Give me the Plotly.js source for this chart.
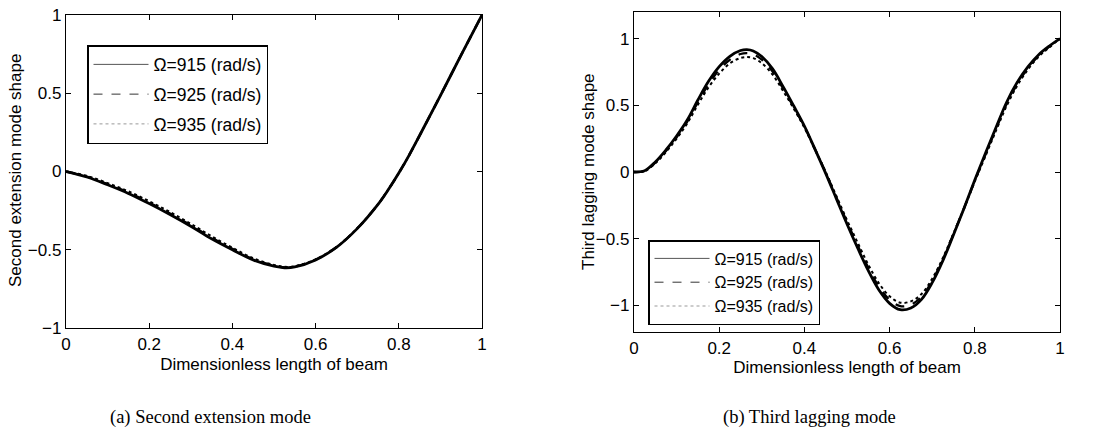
<!DOCTYPE html>
<html>
<head>
<meta charset="utf-8">
<script src="https://cdn.plot.ly/plotly-3.0.1.min.js"></script>
<style>html,body{margin:0;padding:0;background:#fff;}#chart{width:1096px;height:442px;}</style>
</head>
<body>
<div id="chart"></div>
<script>
// ---- Data ----
const seriesNames = ["\u03A9=915 (rad/s)", "\u03A9=925 (rad/s)", "\u03A9=935 (rad/s)"];

// (a) Second extension mode
const xA = [0, 0.05, 0.1, 0.15, 0.2, 0.25, 0.3, 0.35, 0.4, 0.45, 0.5, 0.525, 0.55, 0.6, 0.65, 0.7, 0.75, 0.775, 0.8, 0.825, 0.85, 0.9, 0.95, 1];
const yA915 = [0, -0.035, -0.085, -0.14, -0.205, -0.275, -0.35, -0.43, -0.50, -0.565, -0.605, -0.615, -0.61, -0.565, -0.485, -0.365, -0.21, -0.115, -0.01, 0.105, 0.23, 0.485, 0.745, 1.0];
const yA925 = [0, -0.032, -0.080, -0.134, -0.198, -0.268, -0.343, -0.423, -0.494, -0.560, -0.601, -0.612, -0.608, -0.563, -0.484, -0.364, -0.21, -0.115, -0.01, 0.105, 0.23, 0.485, 0.745, 1.0];
const yA935 = [0, -0.028, -0.074, -0.127, -0.190, -0.259, -0.334, -0.414, -0.487, -0.554, -0.597, -0.609, -0.606, -0.561, -0.483, -0.363, -0.209, -0.115, -0.01, 0.105, 0.23, 0.485, 0.745, 1.0];

// (b) Third lagging mode
const xB = [0, 0.025, 0.05, 0.075, 0.1, 0.125, 0.15, 0.175, 0.2, 0.225, 0.25, 0.265, 0.28, 0.3, 0.325, 0.35, 0.375, 0.4, 0.425, 0.45, 0.475, 0.5, 0.525, 0.55, 0.575, 0.6, 0.625, 0.65, 0.675, 0.7, 0.725, 0.75, 0.775, 0.8, 0.825, 0.85, 0.875, 0.9, 0.925, 0.95, 0.975, 1];
const yB915 = [0, 0.01, 0.075, 0.165, 0.27, 0.39, 0.54, 0.68, 0.79, 0.868, 0.911, 0.918, 0.908, 0.866, 0.775, 0.64, 0.495, 0.345, 0.17, -0.01, -0.2, -0.39, -0.57, -0.74, -0.885, -0.985, -1.033, -1.02, -0.955, -0.83, -0.665, -0.47, -0.27, -0.06, 0.14, 0.335, 0.525, 0.675, 0.79, 0.88, 0.945, 1.0];
const yB925 = [0, 0.008, 0.07, 0.158, 0.26, 0.378, 0.523, 0.658, 0.765, 0.842, 0.885, 0.892, 0.883, 0.843, 0.755, 0.626, 0.486, 0.34, 0.17, -0.005, -0.19, -0.375, -0.55, -0.718, -0.86, -0.958, -1.006, -0.995, -0.935, -0.815, -0.655, -0.465, -0.27, -0.065, 0.13, 0.325, 0.512, 0.662, 0.78, 0.872, 0.94, 1.0];
const yB935 = [0, 0.006, 0.065, 0.15, 0.25, 0.365, 0.505, 0.635, 0.738, 0.815, 0.855, 0.862, 0.854, 0.816, 0.732, 0.608, 0.475, 0.332, 0.168, 0.0, -0.18, -0.36, -0.53, -0.695, -0.835, -0.932, -0.98, -0.97, -0.915, -0.80, -0.645, -0.46, -0.27, -0.07, 0.12, 0.312, 0.498, 0.65, 0.77, 0.865, 0.935, 1.0];

// tick labels
const xTicks = [0, 0.2, 0.4, 0.6, 0.8, 1];
const xTickText = ["0", "0.2", "0.4", "0.6", "0.8", "1"];
const yTicksA = [-1, -0.5, 0, 0.5, 1];
const yTickTextA = ["\u22121", "\u22120.5", "0", "0.5", "1"];
const yTicksB = [-1, -0.5, 0, 0.5, 1];
const yTickTextB = ["\u22121", "\u22120.5", "0", "0.5", "1"];

const xTitle = "Dimensionless length of beam";
const yTitleA = "Second extension mode shape";
const yTitleB = "Third lagging mode shape";
const captionA = "(a) Second extension mode";
const captionB = "(b) Third lagging mode";

// ---- Styling ----
const dashes = ["solid", "dash", "dot"];
const widths = [2.8, 2.3, 2.0];
const legendGrey = ["#555", "#333", "#999"];
const F = "Liberation Sans, Arial, Helvetica, sans-serif";
const FS = 17;

const traces = [];
const ysA = [yA915, yA925, yA935];
const ysB = [yB915, yB925, yB935];
for (let i = 0; i < 3; i++) {
  traces.push({x: xA, y: ysA[i], xaxis: "x", yaxis: "y", mode: "lines", line: {color: "#000", width: widths[i], dash: dashes[i], shape: "spline", smoothing: 1}, showlegend: false, hoverinfo: "skip"});
  traces.push({x: xB, y: ysB[i], xaxis: "x2", yaxis: "y2", mode: "lines", line: {color: "#000", width: widths[i], dash: dashes[i], shape: "spline", smoothing: 1}, showlegend: false, hoverinfo: "skip"});
}
// legend entries (thin lines like the original legends)
for (let i = 0; i < 3; i++) {
  traces.push({x: [null], y: [null], xaxis: "x", yaxis: "y", mode: "lines", name: seriesNames[i], legendgroup: "a" + i, line: {color: legendGrey[i], width: 1, dash: dashes[i]}, legend: "legend", showlegend: true});
  traces.push({x: [null], y: [null], xaxis: "x2", yaxis: "y2", mode: "lines", name: seriesNames[i], legendgroup: "b" + i, line: {color: legendGrey[i], width: 1, dash: dashes[i]}, legend: "legend2", showlegend: true});
}

const W = 1096, H = 442;
function ax(extra) {
  return Object.assign({
    showgrid: false, zeroline: false, showline: true, linecolor: "#000", linewidth: 1.2,
    mirror: "ticks", ticks: "inside", ticklen: 5, tickcolor: "#000", tickwidth: 1,
    tickfont: {family: F, size: FS, color: "#000"}, automargin: false, fixedrange: true
  }, extra);
}
function ytitle(text, xpx, ypx) {
  return {text: text, xref: "paper", yref: "paper", x: xpx / W, y: 1 - ypx / H, xanchor: "center", yanchor: "middle",
    textangle: -90, showarrow: false, font: {family: F, size: FS, color: "#000"}};
}
const capFont = {family: "Liberation Serif, Times New Roman, serif", size: 18.5, color: "#000"};

const layout = {
  width: W, height: H,
  margin: {l: 0, r: 0, t: 0, b: 0},
  paper_bgcolor: "#fff", plot_bgcolor: "#fff",
  font: {family: F, color: "#000"},
  xaxis: ax({domain: [66 / W, 482 / W], range: [0, 1], tickvals: xTicks, ticktext: xTickText, anchor: "y",
    title: {text: xTitle, font: {family: F, size: FS}, standoff: 5}}),
  yaxis: ax({domain: [1 - 328 / H, 1 - 15 / H], range: [-1, 1], tickvals: yTicksA, ticktext: yTickTextA, anchor: "x"}),
  xaxis2: ax({domain: [634 / W, 1060 / W], range: [0, 1], tickvals: xTicks, ticktext: xTickText, anchor: "y2",
    title: {text: xTitle, font: {family: F, size: FS}, standoff: 4}}),
  yaxis2: ax({domain: [1 - 332 / H, 1 - 12 / H], range: [-1.2, 1.2], tickvals: yTicksB, ticktext: yTickTextB, anchor: "x2"}),
  legend: {x: 87 / W, y: 1 - 45 / H, xanchor: "left", yanchor: "top", bgcolor: "#fff", bordercolor: "#000", borderwidth: 1.5,
    font: {family: F, size: 17.5, color: "#000"}, tracegroupgap: 4, itemwidth: 55},
  legend2: {x: 648 / W, y: 1 - 240 / H, xanchor: "left", yanchor: "top", bgcolor: "#fff", bordercolor: "#000", borderwidth: 1.5,
    font: {family: F, size: 16, color: "#000"}, tracegroupgap: 0, itemwidth: 55},
  annotations: [
    ytitle(yTitleA, 16, 171),
    ytitle(yTitleB, 589, 172),
    {text: captionA, xref: "paper", yref: "paper", x: 210 / W, y: 1 - 417 / H, xanchor: "center", yanchor: "middle", showarrow: false, font: capFont},
    {text: captionB, xref: "paper", yref: "paper", x: 809 / W, y: 1 - 417 / H, xanchor: "center", yanchor: "middle", showarrow: false, font: capFont}
  ]
};

Plotly.newPlot("chart", traces, layout, {displayModeBar: false, staticPlot: true});
</script>
</body>
</html>
